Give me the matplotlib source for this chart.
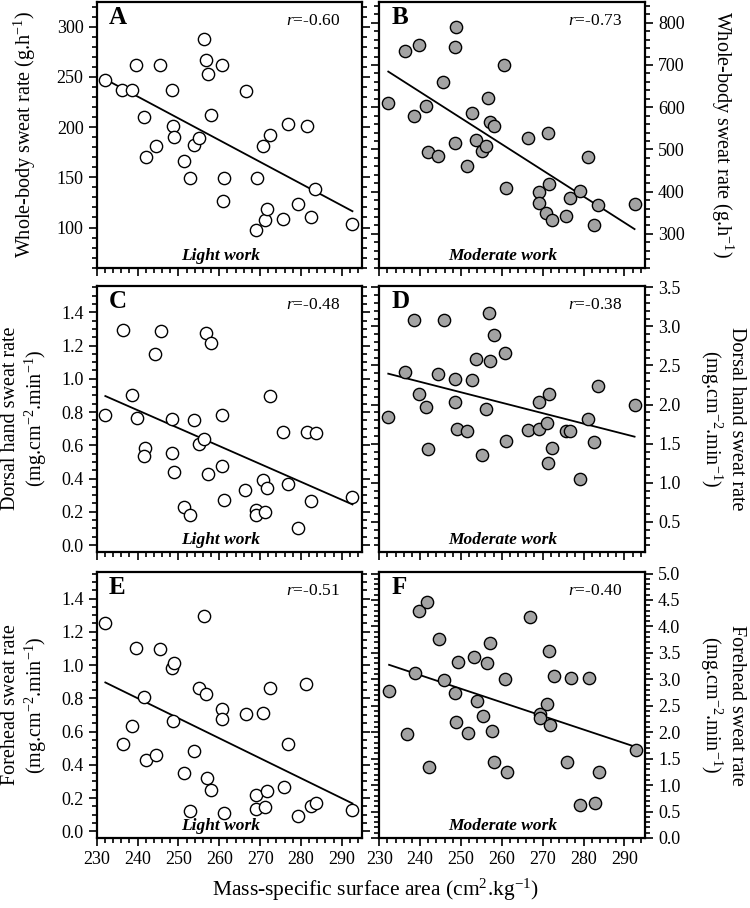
import numpy as np
import matplotlib
matplotlib.use("Agg")
import matplotlib.pyplot as plt
from matplotlib.ticker import MultipleLocator

plt.rcParams["font.family"] = ["Liberation Serif", "DejaVu Serif"]
plt.rcParams["mathtext.fontset"] = "custom"
plt.rcParams["mathtext.rm"] = "Liberation Serif"
plt.rcParams["mathtext.it"] = "Liberation Serif:italic"

# ---- data ----
# light work (A, C, E share subjects)
x_light = [232.1, 236.3, 238.7, 239.7, 241.5, 242.0, 244.4, 245.6, 248.4, 248.6,
           248.9, 251.4, 252.9, 253.8, 255.0, 256.3, 256.8, 257.3, 258.0, 260.7,
           261.1, 260.8, 266.6, 269.2, 269.1, 270.7, 271.3, 271.7, 272.5, 275.7,
           276.8, 279.3, 281.4, 282.4, 283.4, 292.6]
wb_light = [246.7, 236.8, 236.8, 261.6, 210.3, 169.9, 180.8, 261.9, 237.4, 200.7,
            190.4, 165.9, 149.7, 182.5, 188.7, 288.1, 267.2, 252.6, 211.6, 261.9,
            149.0, 126.8, 235.8, 149.7, 98.0, 180.8, 107.6, 118.2, 192.1, 108.9,
            203.6, 123.8, 201.3, 110.3, 138.1, 103.6]

x_dorsal_light = [232.1, 236.5, 238.7, 239.8, 241.9, 241.5, 244.3, 245.8, 248.5, 248.4,
                  248.9, 251.4, 252.9, 253.8, 255.0, 256.3, 256.8, 258.0, 257.3, 260.7,
                  260.7, 261.1, 266.4, 269.0, 269.1, 270.7, 271.3, 271.7, 272.4, 275.7,
                  276.7, 279.3, 281.4, 283.7, 282.4, 292.6]
dorsal_light = [0.784, 1.296, 0.902, 0.766, 0.584, 0.536, 1.150, 1.290, 0.760, 0.552,
                0.438, 0.228, 0.180, 0.754, 0.610, 0.640, 1.274, 1.218, 0.430, 0.782,
                0.474, 0.268, 0.334, 0.210, 0.180, 0.394, 0.196, 0.342, 0.894, 0.678,
                0.370, 0.100, 0.678, 0.674, 0.264, 0.286]

x_fore_light = [232.1, 236.4, 238.7, 239.7, 241.5, 242.0, 244.4, 245.6, 248.4, 249.0,
                248.6, 251.4, 252.9, 253.8, 255.0, 256.3, 256.8, 257.1, 258.0, 260.7,
                260.7, 261.1, 266.6, 269.1, 269.0, 270.7, 271.3, 271.7, 272.4, 275.8,
                276.8, 279.3, 281.2, 282.5, 283.7, 292.6]
fore_light = [1.252, 0.526, 0.636, 1.104, 0.806, 0.430, 0.462, 1.094, 0.984, 1.012,
              0.662, 0.348, 0.122, 0.482, 0.864, 1.298, 0.824, 0.322, 0.248, 0.738,
              0.678, 0.110, 0.704, 0.218, 0.132, 0.714, 0.144, 0.244, 0.864, 0.268,
              0.526, 0.092, 0.884, 0.152, 0.168, 0.130]

# moderate work (B, D, F)
x_wb_mod = [232.2, 236.3, 239.7, 238.5, 241.5, 241.9, 244.4, 245.5, 248.5, 248.5,
            248.9, 251.5, 252.8, 253.8, 255.1, 256.2, 256.7, 257.0, 258.0, 260.6,
            261.0, 266.5, 269.2, 269.1, 270.8, 271.3, 271.6, 272.4, 275.7, 276.7,
            279.2, 281.2, 282.6, 283.5, 292.5]
wb_mod = [610.1, 732.8, 747.0, 578.5, 603.8, 493.8, 484.3, 659.2, 515.2, 741.5,
          790.5, 460.6, 586.4, 522.3, 496.2, 507.3, 621.2, 565.0, 555.5, 701.1,
          407.6, 527.8, 398.1, 372.0, 349.8, 538.9, 417.9, 333.2, 342.7, 385.4,
          401.3, 481.9, 320.6, 369.6, 371.2]

x_dorsal_mod = [232.2, 236.3, 238.5, 239.7, 241.5, 241.9, 244.4, 245.8, 248.5, 248.5,
                249.0, 251.5, 252.8, 253.8, 255.1, 256.2, 256.8, 257.1, 258.1, 260.7,
                261.0, 266.5, 269.1, 269.1, 271.0, 271.6, 271.2, 272.3, 275.7, 276.8,
                279.2, 281.2, 282.6, 283.5, 292.5]
dorsal_mod = [1.839, 2.415, 3.076, 2.131, 1.975, 1.432, 2.386, 3.076, 2.322, 2.034,
              1.691, 1.665, 2.314, 2.585, 1.352, 1.941, 3.169, 2.551, 2.886, 2.661,
              1.530, 1.669, 2.034, 1.686, 1.767, 2.136, 1.250, 1.445, 1.665, 1.657,
              1.047, 1.814, 1.517, 2.237, 1.992]

x_fore_mod = [232.4, 236.7, 238.8, 239.8, 241.7, 242.1, 244.6, 245.9, 248.6, 248.9,
              249.3, 251.7, 253.1, 254.0, 255.4, 256.4, 257.0, 257.5, 258.2, 260.9,
              261.3, 266.8, 269.3, 269.3, 271.1, 271.5, 271.9, 272.7, 275.9, 277.0,
              279.2, 281.4, 282.8, 283.7, 292.8]
fore_mod = [2.771, 1.974, 3.117, 4.297, 4.466, 1.340, 3.770, 2.991, 2.734, 2.188,
            3.330, 1.987, 3.424, 2.589, 2.301, 3.311, 3.682, 2.031, 1.441, 3.010,
            1.246, 4.171, 2.351, 2.269, 2.533, 3.544, 2.131, 3.060, 1.441, 3.029,
            0.625, 3.029, 0.669, 1.252, 1.661]

letters = ["A", "B", "C", "D", "E", "F"]
r_labels = ["-0.60", "-0.73", "-0.48", "-0.38", "-0.51", "-0.40"]
ylabels = ["Whole-body sweat rate (g.h$^{-1}$)",
           "Whole-body sweat rate (g.h$^{-1}$)",
           "Dorsal hand sweat rate\n(mg.cm$^{-2}$.min$^{-1}$)",
           "Dorsal hand sweat rate\n(mg.cm$^{-2}$.min$^{-1}$)",
           "Forehead sweat rate\n(mg.cm$^{-2}$.min$^{-1}$)",
           "Forehead sweat rate\n(mg.cm$^{-2}$.min$^{-1}$)"]


def panel(ax, x, y, right, letter, r, ylabel, ylim, major, minor, show_x):
    face = "#a3a3a3" if right else "white"
    ax.scatter(x, y, s=78, facecolor=face, edgecolor="black", linewidth=1.0, zorder=3)
    x = np.asarray(x)
    a, b = np.polyfit(x, y, 1)
    xs = np.array([x.min(), x.max()])
    ax.plot(xs, a * xs + b, color="black", lw=1.3, zorder=2)

    ax.set_xlim(230, 295)
    ax.set_ylim(*ylim)
    ax.xaxis.set_major_locator(MultipleLocator(10))
    ax.xaxis.set_minor_locator(MultipleLocator(2))
    ax.yaxis.set_major_locator(MultipleLocator(major))
    ax.yaxis.set_minor_locator(MultipleLocator(minor))
    for s in ax.spines.values():
        s.set_linewidth(1.6)
    ax.tick_params(which="both", direction="out", width=1.2, labelsize=13,
                   top=False, bottom=True, left=True, right=True,
                   labelbottom=show_x, labelleft=not right, labelright=right)
    ax.tick_params(which="major", length=6)
    ax.tick_params(which="minor", length=3.5)

    # y label placed by its centre, as in the original
    ax.text(1.29 if right else -0.27, 0.5, ylabel, transform=ax.transAxes,
            rotation=-90 if right else 90, ha="center", va="center",
            multialignment="center", fontsize=14.5, linespacing=1.15)

    ax.text(0.045, 0.94, letter, transform=ax.transAxes, fontsize=18,
            fontweight="bold", va="center", ha="left")
    ax.text(0.915, 0.927, "$\\mathit{r}$=" + r, transform=ax.transAxes,
            fontsize=12.5, va="center", ha="right")
    ax.text(0.465, 0.045, "Moderate work" if right else "Light work",
            transform=ax.transAxes, fontsize=12.5, fontweight="bold",
            fontstyle="italic", va="center", ha="center")


def main():
    fig = plt.figure(figsize=(7.5, 9.08), dpi=100)
    lefts = [0.129, 0.5057]
    bottoms = [0.7052, 0.3924, 0.0771]
    w, h = 0.354, 0.293

    specs = [
        (x_light, wb_light, (60, 325), 50, 10),
        (x_wb_mod, wb_mod, (220, 850), 100, 20),
        (x_dorsal_light, dorsal_light, (-0.04, 1.56), 0.2, 0.05),
        (x_dorsal_mod, dorsal_mod, (0.12, 3.52), 0.5, 0.1),
        (x_fore_light, fore_light, (-0.04, 1.56), 0.2, 0.05),
        (x_fore_mod, fore_mod, (0.0, 5.03), 0.5, 0.1),
    ]
    for i, (x, y, ylim, major, minor) in enumerate(specs):
        row, col = divmod(i, 2)
        ax = fig.add_axes([lefts[col], bottoms[row], w, h])
        panel(ax, x, y, col == 1, letters[i], r_labels[i], ylabels[i],
              ylim, major, minor, row == 2)

    fig.text(0.5, 0.02, "Mass-specific surface area (cm$^{2}$.kg$^{-1}$)",
             ha="center", va="center", fontsize=15.5)
    fig.savefig("out.png", dpi=100)


if __name__ == "__main__":
    main()
